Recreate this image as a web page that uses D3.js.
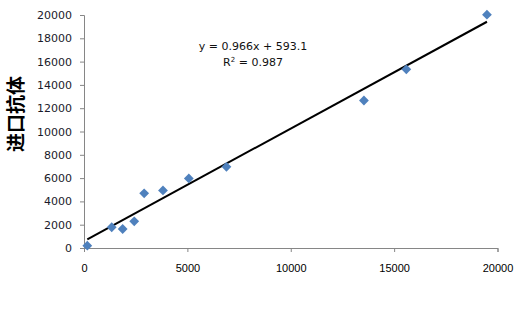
<!DOCTYPE html>
<html>
<head>
<meta charset="utf-8">
<script src="https://cdn.jsdelivr.net/npm/d3@7"></script>
<style>
  body { margin: 0; background: #fff; }
  svg { display: block; }
</style>
</head>
<body>
<div id="chart"></div>
<script>
// data
var xValues = [160, 1340, 1870, 2430, 2910, 3820, 5070, 6890, 13540, 15590, 19490];
var yValues = [200, 1780, 1630, 2290, 4690, 4940, 5970, 6970, 12660, 15340, 20030];
var xTicks = [0, 5000, 10000, 15000, 20000];
var yTicks = [0, 2000, 4000, 6000, 8000, 10000, 12000, 14000, 16000, 18000, 20000];
var slope = 0.966, intercept = 593.1;
var eqText = "y = 0.966x + 593.1";
var r2Value = "0.987";
var yTitle = "进口抗体";

var width = 525, height = 319;
var margin = {top: 15, right: 27, bottom: 71, left: 84};

var svg = d3.select("#chart").append("svg")
    .attr("width", width)
    .attr("height", height);

var x = d3.scaleLinear().domain([0, 20000]).range([margin.left, width - margin.right - 0.5]);
var y = d3.scaleLinear().domain([0, 20000]).range([height - margin.bottom, margin.top]);

var axisColor = "#868686";

// y axis
var yAxis = svg.append("g")
    .attr("transform", "translate(" + margin.left + ",0)")
    .call(d3.axisLeft(y).tickValues(yTicks).tickSize(4).tickPadding(8).tickFormat(d3.format("d")));
yAxis.select(".domain").attr("stroke", axisColor);
yAxis.selectAll(".tick line").attr("stroke", axisColor);
yAxis.selectAll("text")
    .style("font-family", "Tahoma, 'DejaVu Sans', sans-serif")
    .style("font-size", "11px")
    .attr("fill", "#1a1a2a");

// x axis
var xAxis = svg.append("g")
    .attr("transform", "translate(0," + (height - margin.bottom) + ")")
    .call(d3.axisBottom(x).tickValues(xTicks).tickSize(4).tickPadding(12).tickFormat(d3.format("d")));
xAxis.select(".domain").attr("stroke", axisColor);
xAxis.selectAll(".tick line").attr("stroke", axisColor);
xAxis.selectAll("text")
    .style("font-family", "'Liberation Sans', Arial, sans-serif")
    .style("font-size", "11px")
    .attr("fill", "#000");

// trend line over the range of the data
var x0 = d3.min(xValues), x1 = d3.max(xValues);
svg.append("line")
    .attr("x1", x(x0)).attr("y1", y(slope * x0 + intercept))
    .attr("x2", x(x1)).attr("y2", y(slope * x1 + intercept))
    .attr("stroke", "#000")
    .attr("stroke-width", 2);

// points (diamonds)
var diamond = d3.symbol().type(d3.symbolSquare).size(48);
svg.selectAll("path.pt")
    .data(xValues.map(function(d, i) { return [d, yValues[i]]; }))
    .enter()
    .append("path")
    .attr("class", "pt")
    .attr("d", diamond)
    .attr("transform", function(d) { return "translate(" + x(d[0]) + "," + y(d[1]) + ") rotate(45)"; })
    .attr("fill", "#4f81bd");

// equation label
var eq = svg.append("text")
    .attr("x", 253)
    .attr("y", 50)
    .attr("text-anchor", "middle")
    .style("font-family", "Tahoma, 'DejaVu Sans', sans-serif")
    .style("font-size", "11px")
    .attr("fill", "#111")
    .text(eqText);

var r2 = svg.append("text")
    .attr("x", 253)
    .attr("y", 66)
    .attr("text-anchor", "middle")
    .style("font-family", "Tahoma, 'DejaVu Sans', sans-serif")
    .style("font-size", "11px")
    .attr("fill", "#111");
r2.append("tspan").text("R");
r2.append("tspan").attr("dy", -4).style("font-size", "7px").text("2");
r2.append("tspan").attr("dy", 4).text(" = " + r2Value);

// y title
svg.append("text")
    .attr("transform", "translate(23,114) rotate(-90)")
    .attr("text-anchor", "middle")
    .style("font-family", "'Noto Sans CJK SC', sans-serif")
    .style("font-size", "19px")
    .style("font-weight", "bold")
    .attr("fill", "#000")
    .text(yTitle);
</script>
</body>
</html>
